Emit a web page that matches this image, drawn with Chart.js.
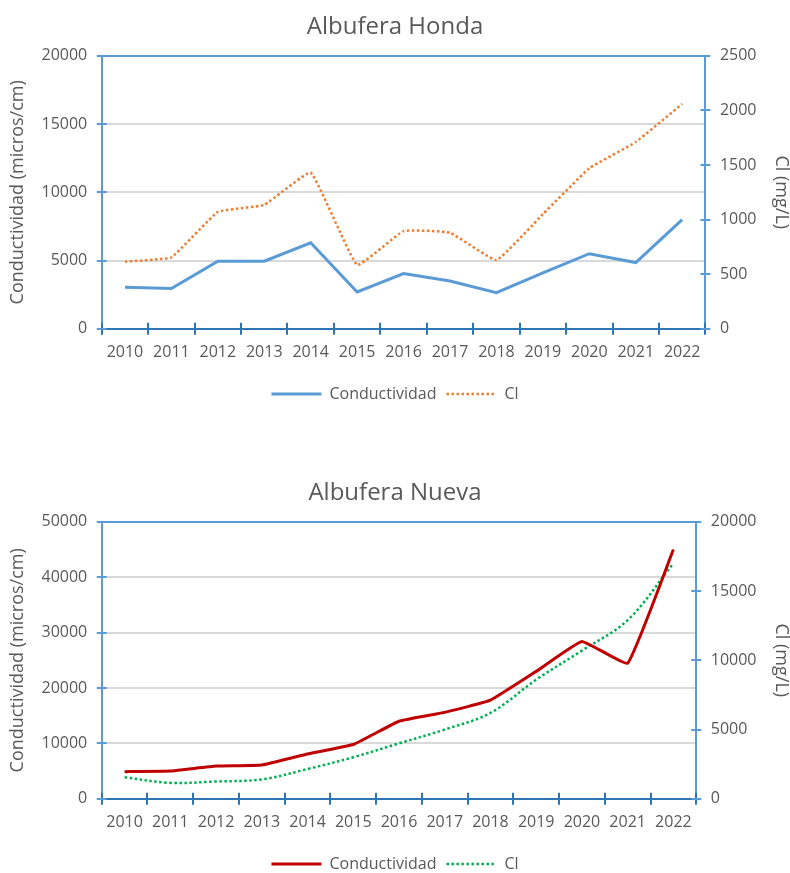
<!DOCTYPE html>
<html lang="es">
<head>
<meta charset="utf-8">
<title>Albuferas - Conductividad y Cl</title>
<script src="https://cdn.jsdelivr.net/npm/chart.js@4.4.1/dist/chart.umd.min.js"></script>
<style>
    body { margin: 0; background: #ffffff; overflow: hidden; }
    #honda { position: absolute; left: 0; top: 0; }
    #nueva { position: absolute; left: 0; top: 466px; }
</style>
</head>
<body>
<canvas id="honda" width="790" height="412"></canvas>
<canvas id="nueva" width="790" height="416"></canvas>
<script>
// ===============================
//   Datos
// ===============================
const anios = ["2010", "2011", "2012", "2013", "2014", "2015", "2016", "2017", "2018", "2019", "2020", "2021", "2022"];

// Albufera Honda
const hondaConductividad = [3050, 2950, 4950, 4950, 6300, 2700, 4050, 3500, 2650, 4100, 5500, 4850, 8000];
const hondaCl = [615, 655, 1070, 1135, 1430, 585, 895, 880, 630, 1050, 1470, 1710, 2060];

// Albufera Nueva
const nuevaConductividad = [4900, 5000, 5900, 6100, 8100, 9800, 14000, 15600, 17800, 23000, 28400, 24500, 45000];
const nuevaCl = [1550, 1150, 1250, 1400, 2150, 3000, 4000, 5000, 6200, 8600, 10700, 12900, 17000];

const GRIS = "#595959";
const AZUL_EJE = "#5B9BD5";
const AZUL_X = "#2E75B6";
const FUENTE = "Open Sans";

// -------------------------------
// Marcas cruzadas en los ejes (estilo Excel)
// -------------------------------
const marcasCruzadas = {
    id: "marcasCruzadas",
    afterDatasetsDraw(chart) {
        const ctx = chart.ctx;
        const x = chart.scales.x;
        ctx.save();
        ctx.lineWidth = 2;

        // eje x: marcas entre categorias
        ctx.strokeStyle = AZUL_X;
        const paso = x.width / x.ticks.length;
        for (let i = 0; i <= x.ticks.length; i++) {
            const px = Math.round(x.left + i * paso);
            ctx.beginPath();
            ctx.moveTo(px, x.top - 6);
            ctx.lineTo(px, x.top + 6);
            ctx.stroke();
        }

        // ejes y
        ctx.strokeStyle = AZUL_EJE;
        ["y", "y1"].forEach(id => {
            const s = chart.scales[id];
            const ax = s.position === "left" ? s.right : s.left;
            s.ticks.forEach(t => {
                const py = Math.round(s.getPixelForValue(t.value));
                ctx.beginPath();
                ctx.moveTo(ax - 5, py);
                ctx.lineTo(ax + 5, py);
                ctx.stroke();
            });
        });
        ctx.restore();
    }
};

// leyenda con el mismo trazo (punteado) que la serie
function etiquetasLeyenda(chart) {
    const base = Chart.defaults.plugins.legend.labels.generateLabels(chart);
    return base.map((item, i) => {
        const ds = chart.data.datasets[i];
        item.lineDash = ds.borderDash || [];
        item.lineWidth = ds.borderWidth;
        item.strokeStyle = ds.borderColor;
        return item;
    });
}

// -------------------------------
// Crear grafico con dos ejes
// -------------------------------
function crearGrafico(idCanvas, titulo, cond, cl, opc) {
    const ctx = document.getElementById(idCanvas).getContext("2d");

    new Chart(ctx, {
        type: "line",
        data: {
            labels: anios,
            datasets: [
                {
                    label: "Conductividad",
                    data: cond,
                    yAxisID: "y",
                    borderColor: opc.colorCond,
                    backgroundColor: opc.colorCond,
                    borderWidth: 3,
                    pointRadius: 0,
                    tension: opc.tensionCond
                },
                {
                    label: "Cl",
                    data: cl,
                    yAxisID: "y1",
                    borderColor: opc.colorCl,
                    backgroundColor: opc.colorCl,
                    borderWidth: 2.5,
                    borderDash: [2.5, 2.5],
                    pointRadius: 0,
                    tension: opc.tensionCl
                }
            ]
        },
        options: {
            responsive: false,
            animation: false,
            layout: { padding: 0 },
            scales: {
                x: {
                    offset: true,
                    grid: { offset: true, drawOnChartArea: false, drawTicks: false },
                    border: { color: AZUL_X, width: 2 },
                    ticks: { color: GRIS, font: { family: FUENTE, size: 16 }, padding: 14, maxRotation: 0 }
                },
                y: {
                    position: "left",
                    min: 0,
                    max: opc.maxCond,
                    ticks: {
                        stepSize: opc.pasoCond,
                        color: GRIS,
                        font: { family: FUENTE, size: 16 },
                        padding: 14.5,
                        callback: v => String(v)
                    },
                    grid: {
                        drawTicks: false,
                        lineWidth: 2,
                        color: c => c.tick.value === opc.maxCond ? AZUL_EJE : (c.tick.value === 0 ? "rgba(0,0,0,0)" : "#D9D9D9")
                    },
                    border: { color: AZUL_EJE, width: 2 },
                    title: {
                        display: true,
                        text: "Conductividad (micros/cm)",
                        color: GRIS,
                        font: { family: FUENTE, size: 18, lineHeight: 1 },
                        padding: { top: 9, bottom: 0 }
                    }
                },
                y1: {
                    position: "right",
                    min: 0,
                    max: opc.maxCl,
                    ticks: {
                        stepSize: opc.pasoCl,
                        color: GRIS,
                        font: { family: FUENTE, size: 16 },
                        padding: 14.5,
                        callback: v => String(v)
                    },
                    grid: { drawOnChartArea: false, drawTicks: false },
                    border: { color: AZUL_EJE, width: 2 },
                    title: {
                        display: true,
                        text: "Cl (mg/L)",
                        color: GRIS,
                        font: { family: FUENTE, size: 18, lineHeight: 1 },
                        padding: { top: 0, bottom: 1 }
                    }
                }
            },
            plugins: {
                title: {
                    display: true,
                    text: titulo,
                    color: GRIS,
                    font: { family: FUENTE, size: 24, weight: "normal" },
                    padding: { top: 13, bottom: 14 }
                },
                legend: {
                    position: "bottom",
                    labels: {
                        color: GRIS,
                        font: { family: FUENTE, size: 16 },
                        usePointStyle: true,
                        pointStyle: "line",
                        pointStyleWidth: 50,
                        padding: 10,
                        generateLabels: etiquetasLeyenda
                    }
                },
                tooltip: { enabled: false }
            }
        },
        plugins: [marcasCruzadas]
    });
}

crearGrafico("honda", "Albufera Honda", hondaConductividad, hondaCl, {
    colorCond: "#5B9BD5",
    colorCl: "#ED7D31",
    tensionCond: 0,
    tensionCl: 0.1,
    maxCond: 20000,
    pasoCond: 5000,
    maxCl: 2500,
    pasoCl: 500
});

crearGrafico("nueva", "Albufera Nueva", nuevaConductividad, nuevaCl, {
    colorCond: "#C00000",
    colorCl: "#00B050",
    tensionCond: 0.1,
    tensionCl: 0.35,
    maxCond: 50000,
    pasoCond: 10000,
    maxCl: 20000,
    pasoCl: 5000
});
</script>
</body>
</html>
